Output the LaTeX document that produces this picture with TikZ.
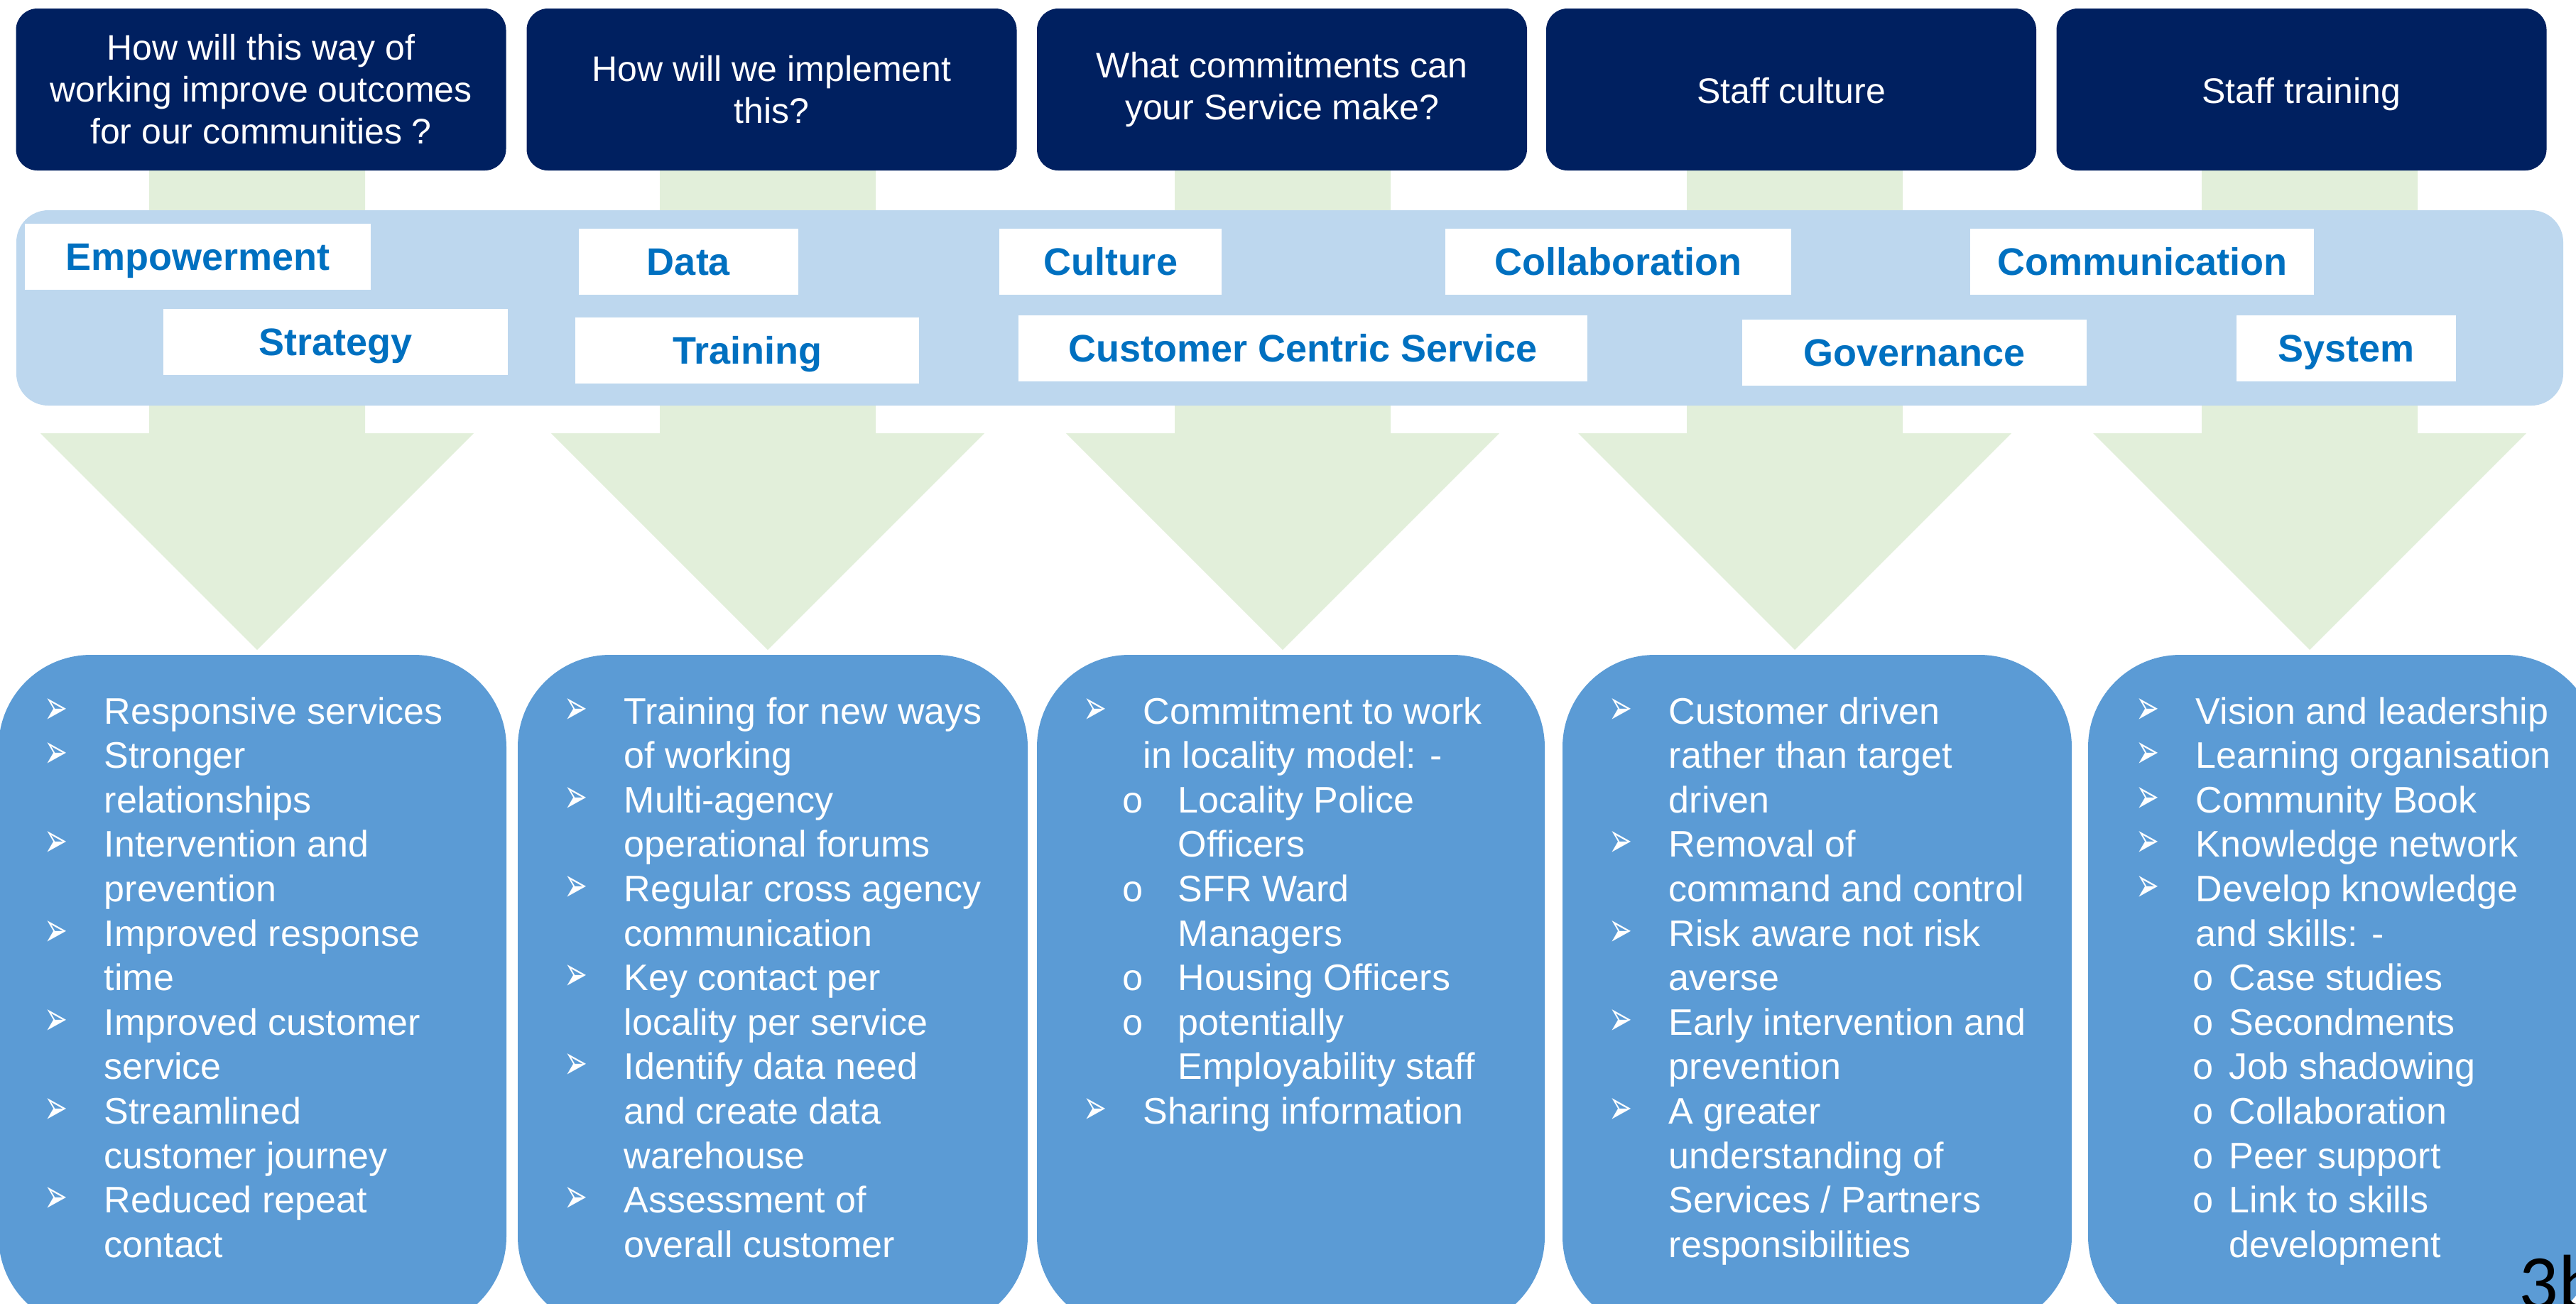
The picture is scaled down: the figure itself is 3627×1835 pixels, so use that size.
\documentclass[tikz,border=0pt]{standalone}
\usepackage{graphicx}
\usepackage{fontspec}
\setmainfont{Liberation Sans}
\newfontfamily\dejavu{DejaVu Sans}
\newfontfamily\lmono{Liberation Mono}
\newfontfamily\calfont{Carlito}
\definecolor{navy}{HTML}{002060}
\definecolor{bandblue}{HTML}{BDD7EE}
\definecolor{arrowgreen}{HTML}{E2EFDA}
\definecolor{cardblue}{HTML}{5B9BD5}
\definecolor{kwblue}{HTML}{0070C0}
\newcommand{\bulletmark}{\resizebox*{8.25pt}{9pt}{\dejavu ➢}}
\newcommand{\bu}[1]{\makebox[21pt][l]{\bulletmark}#1}
\newcommand{\cn}[1]{\hspace*{21pt}#1}
\newcommand{\sbA}[1]{\hspace*{13.5pt}\makebox[19.75pt][l]{\lmono o}#1}
\newcommand{\cnA}[1]{\hspace*{33.25pt}#1}
\newcommand{\sbB}[1]{\hspace*{19.75pt}\makebox[13pt][l]{\lmono o}#1}
\newcommand{\cnB}[1]{\hspace*{32.75pt}#1}
\begin{document}
\begin{tikzpicture}[x=0.25pt,y=-0.25pt,
  hdr/.style={fill=navy, rounded corners=7.5pt, minimum width=172.5pt, minimum height=57pt,
    text=white, align=center, inner sep=0pt, font={\fontsize{12.5pt}{14.75pt}\selectfont}},
  onerow/.style={text height=9.7pt, text depth=0pt},
  kw/.style={fill=white, inner sep=0pt, minimum height=23.25pt, text=kwblue,
    text height=9.67pt, text depth=0pt, font={\bfseries\fontsize{13.5pt}{16pt}\selectfont}},
  arrowshape/.style={fill=arrowgreen},
  card/.style={fill=cardblue, rounded corners=32.5pt},
  bandstyle/.style={fill=bandblue, rounded corners=11.25pt, inner sep=0pt,
    minimum width=896.5pt, minimum height=68.75pt},
  list/.style={anchor=base west, inner sep=0pt, text=white,
    font={\fontsize{13pt}{15.65pt}\selectfont}}
]
\useasboundingbox (0,0) rectangle (3627,1835);
\clip (0,0) rectangle (3627,1835);

% green arrows
\foreach \c in {362,1081,1806,2527,3252}
  \fill[arrowshape] ({\c-152},200) -- ({\c+152},200) -- ({\c+152},610) -- ({\c+305},610)
    -- (\c,915) -- ({\c-305},610) -- ({\c-152},610) -- cycle;

% headers
\node[hdr] (h1) at (367.5,126) {How will this way of\\working improve outcomes\\for our communities ?};
\node[hdr] (h2) at (1086.5,126) {How will we implement\\this?};
\node[hdr] (h3) at (1805,126) {What commitments can\\your Service make?};
\node[hdr, onerow] (h4) at (2522,126) {Staff culture};
\node[hdr, onerow] (h5) at (3240.5,126) {Staff training};

% band
\node[bandstyle] (band) at (1816,433.5) {};

% keywords
\node[kw, minimum width=121.75pt] (k1) at (278.5,361.5) {Empowerment};
\node[kw, minimum width=121.25pt] (k2) at (472.5,481) {Strategy};
\node[kw, minimum width=77.25pt] (k3) at (969.5,368.5) {Data};
\node[kw, minimum width=121pt] (k4) at (1052,493.5) {Training};
\node[kw, minimum width=78.25pt] (k5) at (1563.5,368.5) {Culture};
\node[kw, minimum width=200.25pt] (k6) at (1834.5,490.5) {Customer Centric Service};
\node[kw, minimum width=121.75pt] (k7) at (2278.5,368.5) {Collaboration};
\node[kw, minimum width=121.25pt] (k8) at (2695.5,496) {Governance};
\node[kw, minimum width=121pt] (k9) at (3016,368.5) {Communication};
\node[kw, minimum width=77.25pt] (k10) at (3303.5,490.5) {System};

% cards
\path[card] (-2,922) rectangle (713,1871);
\path[card] (729,922) rectangle (1447,1871);
\path[card] (1460,922) rectangle (2175,1871);
\path[card] (2200,922) rectangle (2917,1871);
\path[card] (2940,922) rectangle (3657,1871);

\node[list] (l1) at (62,1019) {\begin{tabular}[t]{@{}l@{}}
\bu{Responsive services}\\
\bu{Stronger}\\
\cn{relationships}\\
\bu{Intervention and}\\
\cn{prevention}\\
\bu{Improved response}\\
\cn{time}\\
\bu{Improved customer}\\
\cn{service}\\
\bu{Streamlined}\\
\cn{customer journey}\\
\bu{Reduced repeat}\\
\cn{contact}
\end{tabular}};

\node[list] (l2) at (794,1019) {\begin{tabular}[t]{@{}l@{}}
\bu{Training for new ways}\\
\cn{of working}\\
\bu{Multi-agency}\\
\cn{operational forums}\\
\bu{Regular cross agency}\\
\cn{communication}\\
\bu{Key contact per}\\
\cn{locality per service}\\
\bu{Identify data need}\\
\cn{and create data}\\
\cn{warehouse}\\
\bu{Assessment of}\\
\cn{overall customer}
\end{tabular}};

\node[list] (l3) at (1525,1019) {\begin{tabular}[t]{@{}l@{}}
\bu{Commitment to work}\\
\cn{in locality model: -}\\
\sbA{Locality Police}\\
\cnA{Officers}\\
\sbA{SFR Ward}\\
\cnA{Managers}\\
\sbA{Housing Officers}\\
\sbA{potentially}\\
\cnA{Employability staff}\\
\bu{Sharing information}
\end{tabular}};

\node[list] (l4) at (2265,1019) {\begin{tabular}[t]{@{}l@{}}
\bu{Customer driven}\\
\cn{rather than target}\\
\cn{driven}\\
\bu{Removal of}\\
\cn{command and control}\\
\bu{Risk aware not risk}\\
\cn{averse}\\
\bu{Early intervention and}\\
\cn{prevention}\\
\bu{A greater}\\
\cn{understanding of}\\
\cn{Services / Partners}\\
\cn{responsibilities}
\end{tabular}};

\node[list] (l5) at (3007,1019) {\begin{tabular}[t]{@{}l@{}}
\bu{Vision and leadership}\\
\bu{Learning organisation}\\
\bu{Community Book}\\
\bu{Knowledge network}\\
\bu{Develop knowledge}\\
\cn{and skills: -}\\
\sbB{Case studies}\\
\sbB{Secondments}\\
\sbB{Job shadowing}\\
\sbB{Collaboration}\\
\sbB{Peer support}\\
\sbB{Link to skills}\\
\cnB{development}
\end{tabular}};

\node[anchor=base west, inner sep=0pt, font={\calfont\fontsize{27.5pt}{30pt}\selectfont}] (pg) at (3546,1843) {3b};
\end{tikzpicture}
\end{document}
